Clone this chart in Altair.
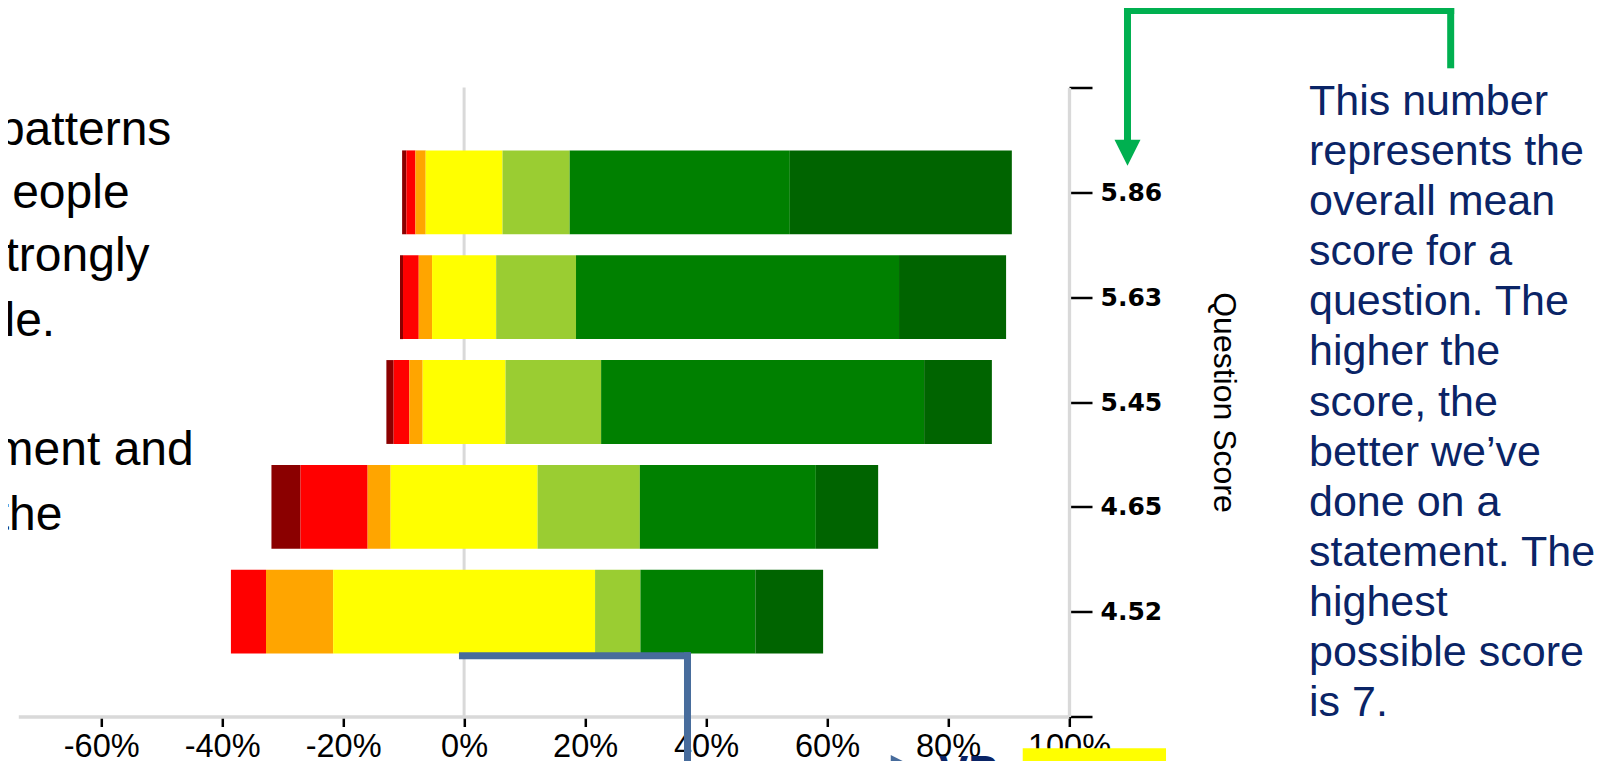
import json
import altair as alt
import pandas as pd

# ---------------- data ----------------
score_labels = ["5.86", "5.63", "5.45", "4.65", "4.52"]
response_levels = ["Strongly Disagree", "Disagree", "Slightly Disagree", "Neutral",
                   "Slightly Agree", "Agree", "Strongly Agree"]
level_colors = ["#8b0000", "#ff0000", "#ffa500", "#ffff00", "#9acd32", "#008000", "#006400"]

strongly_disagree = [0.7, 0.5, 1.2, 4.8, 0.0]
disagree = [1.5, 2.6, 2.6, 11.1, 5.8]
slightly_disagree = [1.7, 2.2, 2.2, 3.8, 11.1]
neutral = [12.7, 10.6, 13.7, 24.3, 43.3]
slightly_agree = [11.1, 13.2, 15.8, 16.9, 7.5]
agree = [36.4, 53.4, 53.4, 29.1, 19.0]
strongly_agree = [36.7, 17.7, 11.2, 10.3, 11.2]

x_ticks = [-60, -40, -20, 0, 20, 40, 60, 80, 100]

note_lines = ["This number", "represents the", "overall mean", "score for a",
              "question. The", "higher the", "score, the", "better we\u2019ve",
              "done on a", "statement. The", "highest", "possible score", "is 7."]

side_text = ["patterns", "eople", "trongly", "le.", "ment and", "the"]

# ---------------- table (diverging, neutral centred on 0) ----------------
series = [strongly_disagree, disagree, slightly_disagree, neutral,
          slightly_agree, agree, strongly_agree]
rows = []
for qi, score in enumerate(score_labels):
    vals = [s[qi] for s in series]
    cur = -(vals[0] + vals[1] + vals[2] + vals[3] / 2.0)
    for li, level in enumerate(response_levels):
        rows.append({"score": score, "row": qi + 1, "level": level,
                     "start": cur, "end": cur + vals[li]})
        cur += vals[li]
bars_df = pd.DataFrame(rows)

n_rows = len(score_labels) + 1
X_DOMAIN = [-73.7, 100]
xscale = alt.Scale(domain=X_DOMAIN, nice=False, zero=False)
yscale = alt.Scale(domain=[0, n_rows], nice=False, zero=False, reverse=True)

label_lookup = json.dumps([""] + score_labels + [""]) + "[datum.value]"

x_axis = alt.Axis(values=x_ticks, labelExpr="datum.value + '%'", title=None,
                  labelFont="Liberation Sans", labelFontSize=32.5, labelColor="black",
                  labelPadding=4, tickSize=10, tickColor="black", tickWidth=2.5,
                  domainColor="#d9d9d9", domainWidth=3.5, grid=False,
                  labelFlush=False, labelOverlap=False)
y_axis = alt.Axis(orient="right", values=list(range(0, n_rows + 1)), labelExpr=label_lookup,
                  title="Question Score", titleFont="Liberation Sans", titleFontSize=32,
                  titleFontWeight="normal", titleColor="black", titleAngle=90,
                  titleX=154.5, titleY=314.5, titleAlign="center", titleBaseline="middle",
                  labelFont="DejaVu Sans", labelFontSize=25, labelFontWeight="bold",
                  labelColor="black", labelPadding=8, labelBaseline="middle",
                  tickSize=23, tickColor="black", tickWidth=2.5,
                  domainColor="#d9d9d9", domainWidth=3.3, grid=False)


def X(field):
    return alt.X(field, type="quantitative", scale=xscale, axis=x_axis)


def Y(field):
    return alt.Y(field, type="quantitative", scale=yscale, axis=y_axis)


# zero reference line
zero_df = pd.DataFrame({"x": [0], "y0": [0], "y1": [n_rows]})
zero_rule = alt.Chart(zero_df).mark_rule(color="#d9d9d9", strokeWidth=3).encode(
    x=X("x"), y=Y("y0"), y2="y1")

bars = alt.Chart(bars_df).transform_calculate(
    y0="datum.row - 0.4", y1="datum.row + 0.4"
).mark_bar().encode(
    x=X("start"), x2="end",
    y=Y("y0"), y2="y1",
    color=alt.Color("level:N", scale=alt.Scale(domain=response_levels, range=level_colors),
                    legend=None),
)

# ---------------- annotations (in data units of the chart's scales) ----------------
green_segments = pd.DataFrame({
    "xa": [163.1, 109.67, 109.67],
    "xb": [163.1, 163.1, 109.67],
    "ya": [-0.2165, -0.7345, -0.7345],
    "yb": [-0.7345, -0.7345, 0.52],
})
green_lines = alt.Chart(green_segments).mark_rule(
    color="#00b050", strokeWidth=7, strokeCap="square").encode(
    x=X("xa"), x2="xb", y=Y("ya"), y2="yb")
green_head = alt.Chart(pd.DataFrame({"x": [109.67], "y": [0.623]})).mark_point(
    shape="M-1,-1L1,-1L0,1Z", size=676, filled=True, color="#00b050", opacity=1,
    strokeWidth=0).encode(x=X("x"), y=Y("y"))

blue_segments = pd.DataFrame({
    "xa": [-0.27, 36.93],
    "xb": [36.93, 36.93],
    "ya": [5.4213, 5.4213],
    "yb": [5.4213, 6.8],
})
blue_lines = alt.Chart(blue_segments).mark_rule(
    color="#476c9c", strokeWidth=7, strokeCap="square").encode(
    x=X("xa"), x2="xb", y=Y("ya"), y2="yb")

note = alt.Chart(pd.DataFrame({"x": [139.68], "y": [0.262]})).mark_text(
    text=note_lines, lineHeight=50.1, align="left", baseline="alphabetic",
    font="Liberation Sans", fontSize=43, color="#0a2466").encode(x=X("x"), y=Y("y"))

side_df = pd.DataFrame({
    "text": side_text,
    "x": [-48.4, -55.3, -52.0, -67.6, -44.7, -66.4],
    "y": [0.546, 1.150, 1.754, 2.374, 3.598, 4.219],
})
side = alt.Chart(side_df).mark_text(
    align="right", baseline="alphabetic", font="Liberation Sans", fontSize=48,
    color="black").encode(x=X("x"), y=Y("y"), text="text:N")

# bottom, partly cut-off slide content
highlight = alt.Chart(pd.DataFrame({"x": [92.35], "x2": [116.04], "y": [6.3035], "y2": [7.0]})
                      ).mark_rect(color="#ffff00").encode(x=X("x"), x2="x2", y=Y("y"), y2="y2")
bullet = alt.Chart(pd.DataFrame({"x": [71.85], "y": [6.444]})).mark_point(
    shape="M-1,-1L1,0L-1,1Z", size=256, filled=True, color="#476c9c", opacity=1,
    strokeWidth=0).encode(x=X("x"), y=Y("y"))
vp = alt.Chart(pd.DataFrame({"x": [78.5], "y": [6.668], "t": ["VP"]})).mark_text(
    align="left", baseline="alphabetic", font="Liberation Sans", fontSize=44,
    fontWeight="bold", color="#0a2466").encode(x=X("x"), y=Y("y"), text="t:N")

chart = alt.layer(
    zero_rule, bars, blue_lines, green_lines, green_head, note, side, highlight, bullet, vp
).properties(
    width=1050.7, height=629,
    padding={"left": 10.3, "top": 79.5, "right": 542, "bottom": 44.5},
    autosize=alt.AutoSizeParams(type="none"),
    background="white",
).configure(font="Liberation Sans").configure_view(strokeWidth=0, stroke="transparent")

chart.save("out.html", embed_options={"renderer": "svg", "actions": False})
